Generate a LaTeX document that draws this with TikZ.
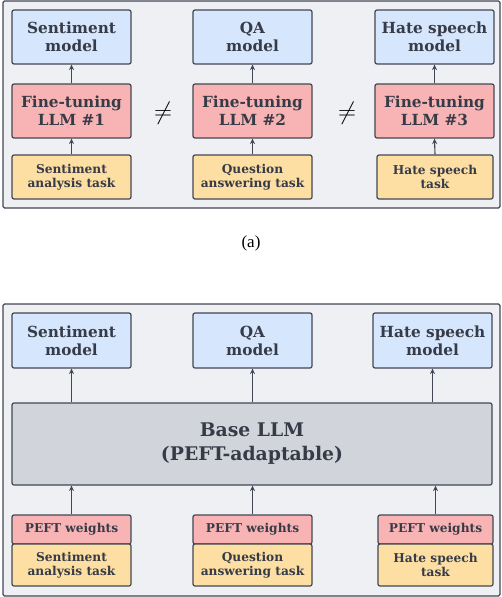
\documentclass[tikz,border=0pt]{standalone}
\usepackage{fontspec}
\setmainfont{DejaVu Serif}
\newfontfamily\capfont{Liberation Serif}
\usetikzlibrary{arrows.meta}
\definecolor{txt}{HTML}{363B47}
\definecolor{edge}{HTML}{424753}
\definecolor{bluef}{HTML}{D6E6FD}
\definecolor{redf}{HTML}{F8B4B4}
\definecolor{yelf}{HTML}{FDDFA4}
\definecolor{grayf}{HTML}{D1D5DB}
\definecolor{panelf}{HTML}{EEF0F3}
\tikzset{
  panelbox/.style={draw=edge, fill=panelf, line width=1.1pt, rounded corners=1.5pt, inner sep=0pt},
  box/.style={draw=edge, line width=1.2pt, rounded corners=2pt, inner sep=0pt, align=center, text=txt, font=\bfseries},
  modelbox/.style={box, fill=bluef, minimum width=119pt, minimum height=54pt, font=\bfseries\fontsize{15.3}{18}\selectfont},
  ftbox/.style={box, fill=redf, minimum width=119pt, minimum height=54pt, font=\bfseries\fontsize{15.3}{18}\selectfont},
  taskbox/.style={box, fill=yelf, minimum width=119pt, minimum height=44pt, font=\bfseries\fontsize{12.2}{14}\selectfont},
  peftbox/.style={box, fill=redf, minimum width=119pt, minimum height=29pt, font=\bfseries\fontsize{12.2}{14}\selectfont},
  basebox/.style={box, fill=grayf, minimum width=480pt, minimum height=82pt, font=\bfseries\fontsize{18.8}{24}\selectfont},
  arr/.style={draw=edge, line width=1.1pt, -{Stealth[length=5.5pt,width=5pt]}},
  neqsign/.style={text=black, inner sep=0pt, font=\fontsize{24}{24}\selectfont},
  capstyle/.style={inner sep=0pt, text=black, font=\fontsize{17}{20}\selectfont}
}
\begin{document}
\begin{tikzpicture}[x=1pt,y=-1pt]
\useasboundingbox (0,0) rectangle (502,597);
% ---------- panel (a)
\node[panelbox, minimum width=497pt, minimum height=207pt] (pa) at (251.5,104.5) {};
\node[modelbox] (m1) at (71.5,37) {Sentiment\\model};
\node[modelbox] (m2) at (252.5,37) {QA\\model};
\node[modelbox] (m3) at (434.5,37) {Hate speech\\model};
\node[ftbox] (f1) at (71.5,111) {Fine-tuning\\LLM \#1};
\node[ftbox] (f2) at (252.5,111) {Fine-tuning\\LLM \#2};
\node[ftbox] (f3) at (434.5,111) {Fine-tuning\\LLM \#3};
\node[taskbox] (t1) at (71.5,177) {Sentiment\\analysis task};
\node[taskbox] (t2) at (252.5,177) {Question\\answering task};
\node[taskbox, minimum width=116pt] (t3) at (435,177) {Hate speech\\task};
\node[neqsign] (n1) at (163,113) {$\neq$};
\node[neqsign] (n2) at (347,113) {$\neq$};
\foreach \i in {1,2,3}{
  \draw[arr] (t\i.north) -- (f\i.south);
  \draw[arr] (f\i.north) -- (m\i.south);
}
\node[capstyle] (cap) at (251,243) {\capfont (a)};
% ---------- panel (b)
\node[panelbox, minimum width=497pt, minimum height=292pt] (pb) at (251.5,450) {};
\node[modelbox, minimum height=55pt] (bm1) at (71.5,340.5) {Sentiment\\model};
\node[modelbox, minimum height=55pt] (bm2) at (252.5,340.5) {QA\\model};
\node[modelbox, minimum height=55pt] (bm3) at (432.5,340.5) {Hate speech\\model};
\node[basebox] (base) at (252,444) {Base LLM\\(PEFT-adaptable)};
\node[peftbox] (p1) at (71.5,529.5) {PEFT weights};
\node[peftbox] (p2) at (252.5,529.5) {PEFT weights};
\node[peftbox, minimum width=115pt] (p3) at (435.5,529.5) {PEFT weights};
\node[taskbox, minimum height=42pt] (bt1) at (71.5,565) {Sentiment\\analysis task};
\node[taskbox, minimum height=42pt] (bt2) at (252.5,565) {Question\\answering task};
\node[taskbox, minimum height=42pt, minimum width=115pt] (bt3) at (435.5,565) {Hate speech\\task};
\foreach \i in {1,2,3}{
  \draw[arr] (p\i.north) -- (base.south -| p\i.north);
  \draw[arr] (base.north -| bm\i.south) -- (bm\i.south);
}
\end{tikzpicture}
\end{document}
